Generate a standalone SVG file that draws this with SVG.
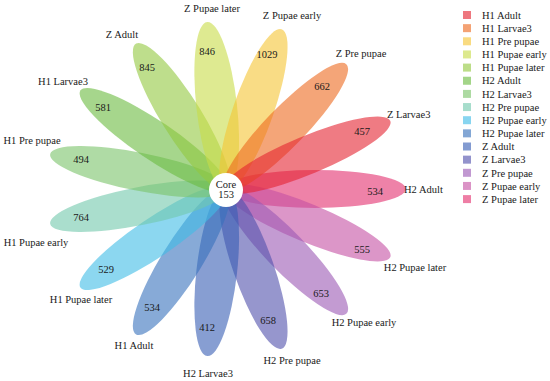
<svg xmlns="http://www.w3.org/2000/svg" width="550" height="381" viewBox="0 0 550 381" font-family="'Liberation Serif', 'Times New Roman', serif" font-size="10.5">
<style>
text{font-family:'Liberation Serif','Times New Roman',serif;font-size:10.5px;fill:#1a1a1a;}
.c{text-anchor:middle;}
.p{fill-opacity:0.6;stroke:none;}
.sw{fill-opacity:0.62;stroke:none;}
</style>
<defs>
<ellipse id="petal" cx="83" cy="0" rx="85" ry="19"/>
</defs>
<rect width="550" height="381" fill="#ffffff"/>
<g id="petals" transform="translate(226,189) scale(1.07,1)">
<use href="#petal" class="p" fill="#e32f6e" transform="rotate(0)"/>
<use href="#petal" class="p" fill="#c550a3" transform="rotate(24)"/>
<use href="#petal" class="p" fill="#9b58b4" transform="rotate(48)"/>
<use href="#petal" class="p" fill="#5050ac" transform="rotate(72)"/>
<use href="#petal" class="p" fill="#375db4" transform="rotate(96)"/>
<use href="#petal" class="p" fill="#3771bc" transform="rotate(120)"/>
<use href="#petal" class="p" fill="#3fbce6" transform="rotate(144)"/>
<use href="#petal" class="p" fill="#71c8ac" transform="rotate(168)"/>
<use href="#petal" class="p" fill="#7ac369" transform="rotate(192)"/>
<use href="#petal" class="p" fill="#6bbb3f" transform="rotate(216)"/>
<use href="#petal" class="p" fill="#93c83f" transform="rotate(240)"/>
<use href="#petal" class="p" fill="#c8dc48" transform="rotate(264)"/>
<use href="#petal" class="p" fill="#f5c534" transform="rotate(288)"/>
<use href="#petal" class="p" fill="#ed691e" transform="rotate(312)"/>
<use href="#petal" class="p" fill="#e42330" transform="rotate(336)"/>
</g>
<g id="core">
<circle cx="226" cy="190" r="17" fill="#ffffff"/>
<text class="c" x="226" y="188">Core</text>
<text class="c" x="226" y="198">153</text>
</g>
<g id="counts">
<text class="c" x="375" y="195">534</text>
<text class="c" x="362" y="253">555</text>
<text class="c" x="321" y="297">653</text>
<text class="c" x="268" y="324">658</text>
<text class="c" x="207" y="331">412</text>
<text class="c" x="152" y="311">534</text>
<text class="c" x="106" y="273">529</text>
<text class="c" x="81" y="221">764</text>
<text class="c" x="81" y="163">494</text>
<text class="c" x="103" y="111">581</text>
<text class="c" x="147" y="71">845</text>
<text class="c" x="207" y="55">846</text>
<text class="c" x="267" y="58">1029</text>
<text class="c" x="322" y="90">662</text>
<text class="c" x="362" y="135">457</text>
</g>
<g id="petal-labels">
<text x="404" y="193">H2 Adult</text>
<text class="c" x="415" y="271">H2 Pupae later</text>
<text class="c" x="364" y="326">H2 Pupae early</text>
<text class="c" x="292" y="364">H2 Pre pupae</text>
<text class="c" x="208" y="377">H2 Larvae3</text>
<text class="c" x="134" y="349">H1 Adult</text>
<text class="c" x="81" y="303">H1 Pupae later</text>
<text class="c" x="36" y="246">H1 Pupae early</text>
<text class="c" x="32" y="144">H1 Pre pupae</text>
<text class="c" x="63" y="85">H1 Larvae3</text>
<text class="c" x="122" y="38">Z Adult</text>
<text class="c" x="212" y="12">Z Pupae later</text>
<text class="c" x="292" y="19">Z Pupae early</text>
<text class="c" x="361" y="57">Z Pre pupae</text>
<text x="387" y="118">Z Larvae3</text>
</g>
<g id="legend">
<rect class="sw" x="463" y="11" width="8" height="8" fill="#e42330"/><text x="482" y="18.7">H1 Adult</text>
<rect class="sw" x="463" y="24.15" width="8" height="8" fill="#ed691e"/><text x="482" y="31.85">H1 Larvae3</text>
<rect class="sw" x="463" y="37.3" width="8" height="8" fill="#f5c534"/><text x="482" y="45">H1 Pre pupae</text>
<rect class="sw" x="463" y="50.45" width="8" height="8" fill="#c8dc48"/><text x="482" y="58.15">H1 Pupae early</text>
<rect class="sw" x="463" y="63.6" width="8" height="8" fill="#93c83f"/><text x="482" y="71.3">H1 Pupae later</text>
<rect class="sw" x="463" y="76.75" width="8" height="8" fill="#6bbb3f"/><text x="482" y="84.45">H2 Adult</text>
<rect class="sw" x="463" y="89.9" width="8" height="8" fill="#7ac369"/><text x="482" y="97.6">H2 Larvae3</text>
<rect class="sw" x="463" y="103.05" width="8" height="8" fill="#71c8ac"/><text x="482" y="110.75">H2 Pre pupae</text>
<rect class="sw" x="463" y="116.2" width="8" height="8" fill="#3fbce6"/><text x="482" y="123.9">H2 Pupae early</text>
<rect class="sw" x="463" y="129.35" width="8" height="8" fill="#3771bc"/><text x="482" y="137.05">H2 Pupae later</text>
<rect class="sw" x="463" y="142.5" width="8" height="8" fill="#375db4"/><text x="482" y="150.2">Z Adult</text>
<rect class="sw" x="463" y="155.65" width="8" height="8" fill="#5050ac"/><text x="482" y="163.35">Z Larvae3</text>
<rect class="sw" x="463" y="168.8" width="8" height="8" fill="#9b58b4"/><text x="482" y="176.5">Z Pre pupae</text>
<rect class="sw" x="463" y="181.95" width="8" height="8" fill="#c550a3"/><text x="482" y="189.65">Z Pupae early</text>
<rect class="sw" x="463" y="195.1" width="8" height="8" fill="#e32f6e"/><text x="482" y="202.8">Z Pupae later</text>
</g>
</svg>
